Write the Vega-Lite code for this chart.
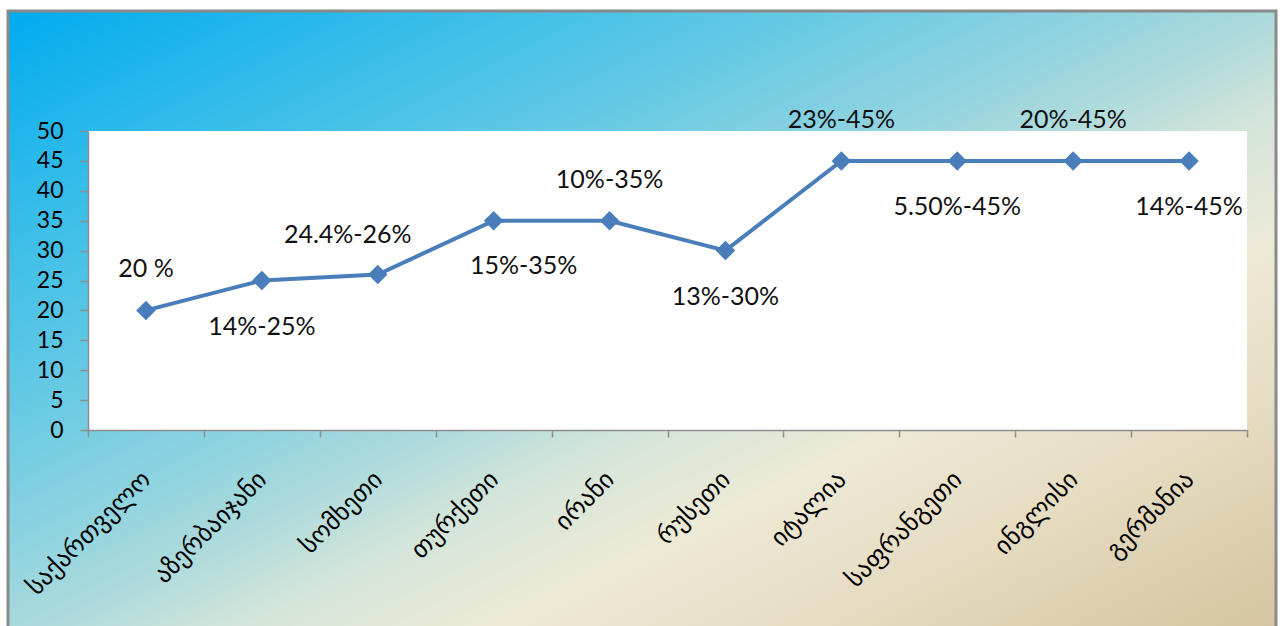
{
  "$schema": "https://vega.github.io/schema/vega-lite/v6.json",
  "width": 1159,
  "height": 299,
  "autosize": {"type": "none"},
  "padding": {"left": 88, "top": 131, "right": 38, "bottom": 196},
  "background": "white",
  "config": {"view": {"stroke": null}},
  "data": {
    "values": [
      {"country": "საქართველო", "value": 20, "label": "20 %"},
      {"country": "აზერბაიჯანი", "value": 25, "label": "14%-25%"},
      {"country": "სომხეთი", "value": 26, "label": "24.4%-26%"},
      {"country": "თურქეთი", "value": 35, "label": "15%-35%"},
      {"country": "ირანი", "value": 35, "label": "10%-35%"},
      {"country": "რუსეთი", "value": 30, "label": "13%-30%"},
      {"country": "იტალია", "value": 45, "label": "23%-45%"},
      {"country": "საფრანგეთი", "value": 45, "label": "5.50%-45%"},
      {"country": "ინგლისი", "value": 45, "label": "20%-45%"},
      {"country": "გერმანია", "value": 45, "label": "14%-45%"}
    ]
  },
  "resolve": {"scale": {"x": "independent"}},
  "layer": [
    {
      "data": {"values": [{}]},
      "mark": {
        "type": "rect",
        "stroke": "#8A8A8A",
        "strokeWidth": 3,
        "fill": {
          "gradient": "linear",
          "x1": 0, "y1": 0, "x2": 1, "y2": 1,
          "stops": [
            {"offset": 0, "color": "#00ABEF"},
            {"offset": 0.18, "color": "#3ABEE9"},
            {"offset": 0.3, "color": "#60C8E5"},
            {"offset": 0.43, "color": "#8ED3E0"},
            {"offset": 0.5, "color": "#ABDADC"},
            {"offset": 0.58, "color": "#D3E5DA"},
            {"offset": 0.68, "color": "#EDEAD6"},
            {"offset": 0.8, "color": "#E6DDC3"},
            {"offset": 1, "color": "#D4C49E"}
          ]
        }
      },
      "encoding": {
        "x": {"datum": -0.069025, "type": "quantitative", "scale": {"domain": [0, 1], "nice": false, "zero": false}, "axis": null},
        "x2": {"datum": 1.02502},
        "y": {
          "datum": 70.067, "type": "quantitative", "scale": {"domain": [0, 50], "nice": false},
          "axis": {"title": null, "zindex": 1, "values": [0, 5, 10, 15, 20, 25, 30, 35, 40, 45, 50], "labelOverlap": false, "labelFont": "Lato", "labelFontSize": 23, "labelColor": "#000000", "labelPadding": 17, "tickSize": 8, "tickColor": "#8E8E8E", "tickWidth": 1.5, "domainColor": "#8E8E8E", "domainWidth": 1.5, "grid": false}
        },
        "y2": {"datum": -35}
      }
    },
    {
      "data": {"values": [{}]},
      "mark": {"type": "rect", "fill": "white"},
      "encoding": {
        "x": {"datum": 0, "type": "quantitative", "scale": {"domain": [0, 1], "nice": false, "zero": false}, "axis": null},
        "x2": {"datum": 1},
        "y": {
          "datum": 50, "type": "quantitative", "scale": {"domain": [0, 50], "nice": false},
          "axis": {"title": null, "zindex": 1, "values": [0, 5, 10, 15, 20, 25, 30, 35, 40, 45, 50], "labelOverlap": false, "labelFont": "Lato", "labelFontSize": 23, "labelColor": "#000000", "labelPadding": 17, "tickSize": 8, "tickColor": "#8E8E8E", "tickWidth": 1.5, "domainColor": "#8E8E8E", "domainWidth": 1.5, "grid": false}
        },
        "y2": {"datum": 0}
      }
    },
    {
      "encoding": {
        "x": {
          "field": "country",
          "type": "nominal",
          "sort": null,
          "scale": {"type": "band", "paddingInner": 0, "paddingOuter": 0},
          "axis": {
            "title": null,
            "zindex": 1,
            "labelAngle": -45,
            "labelAlign": "right",
            "labelBaseline": "middle",
            "labelPadding": 38,
            "labelFont": "DejaVu Sans",
            "labelFontSize": 25,
            "labelColor": "#000000",
            "labelOverlap": false,
            "labelLimit": 0,
            "tickBand": "extent",
            "tickSize": 7,
            "tickColor": "#8E8E8E",
            "tickWidth": 1.5,
            "domainColor": "#8E8E8E",
            "domainWidth": 1.5,
            "grid": false
          }
        },
        "y": {
          "field": "value",
          "type": "quantitative",
          "scale": {"domain": [0, 50], "nice": false},
          "axis": {"title": null, "zindex": 1, "values": [0, 5, 10, 15, 20, 25, 30, 35, 40, 45, 50], "labelOverlap": false, "labelFont": "Lato", "labelFontSize": 23, "labelColor": "#000000", "labelPadding": 17, "tickSize": 8, "tickColor": "#8E8E8E", "tickWidth": 1.5, "domainColor": "#8E8E8E", "domainWidth": 1.5, "grid": false}
        }
      },
      "layer": [
        {"mark": {"type": "line", "color": "#4A7EBB", "strokeWidth": 4}},
        {"mark": {"type": "point", "shape": "diamond", "filled": true, "size": 380, "color": "#4A7EBB", "opacity": 1}},
        {
          "mark": {"type": "text", "font": "Lato", "fontSize": 25, "color": "#111111", "baseline": "middle", "dy": -41},
          "encoding": {"text": {"condition": {"test": "indexof(['20 %','10%-35%','23%-45%','20%-45%'], datum.label) >= 0", "field": "label"}, "value": ""}}
        },
        {
          "mark": {"type": "text", "font": "Lato", "fontSize": 25, "color": "#111111", "baseline": "middle", "dy": 46},
          "encoding": {"text": {"condition": {"test": "indexof(['14%-25%','13%-30%','5.50%-45%','14%-45%'], datum.label) >= 0", "field": "label"}, "value": ""}}
        },
        {
          "mark": {"type": "text", "font": "Lato", "fontSize": 25, "color": "#111111", "baseline": "middle", "dx": -30, "dy": -40},
          "encoding": {"text": {"condition": {"test": "datum.label == '24.4%-26%'", "field": "label"}, "value": ""}}
        },
        {
          "mark": {"type": "text", "font": "Lato", "fontSize": 25, "color": "#111111", "baseline": "middle", "dx": 30, "dy": 45},
          "encoding": {"text": {"condition": {"test": "datum.label == '15%-35%'", "field": "label"}, "value": ""}}
        }
      ]
    }
  ]
}
